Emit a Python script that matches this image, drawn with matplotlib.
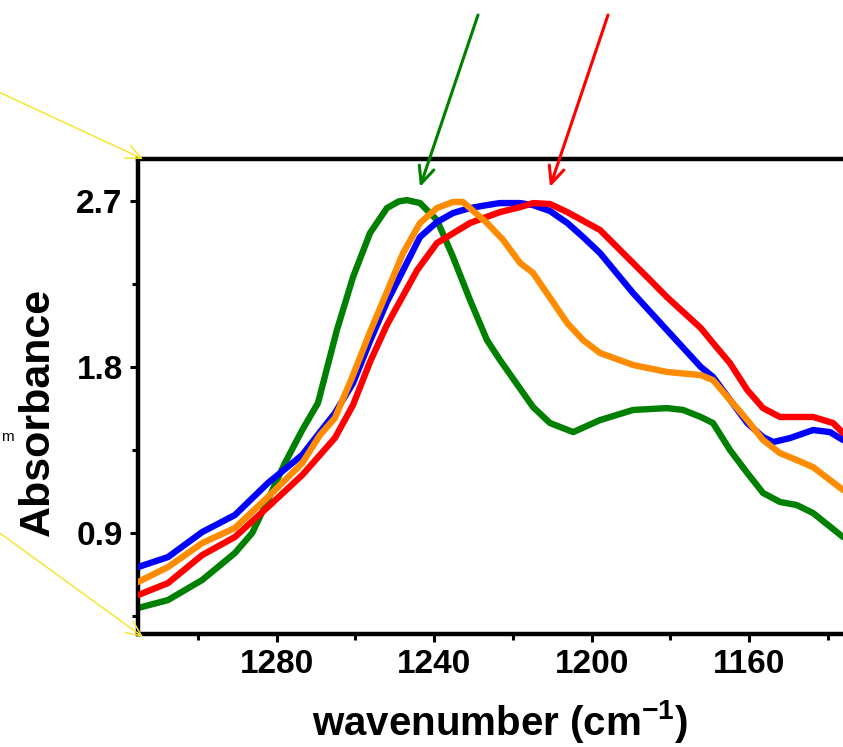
import matplotlib
matplotlib.use("Agg")
import matplotlib.pyplot as plt

plt.rcParams['font.family'] = ['Liberation Sans', 'DejaVu Sans']
plt.rcParams['mathtext.fontset'] = 'custom'
plt.rcParams['mathtext.rm'] = 'Liberation Sans:bold'
plt.rcParams['mathtext.bf'] = 'Liberation Sans:bold'
plt.rcParams['mathtext.default'] = 'bf'

# ---------------- data ----------------
blue_x = [1315.2, 1307.6, 1298.9, 1290.6, 1282.2, 1273.5, 1269.0, 1265.2, 1260.6, 1256.3,
          1252.0, 1243.6, 1239.3, 1235.2, 1230.9, 1226.6, 1223.3, 1218.2, 1214.9, 1210.6,
          1206.2, 1202.2, 1197.9, 1189.5, 1180.9, 1172.3, 1169.2, 1160.5, 1156.5, 1153.9,
          1149.6, 1143.8, 1139.5, 1136.2]
blue_y = [0.715, 0.769, 0.905, 0.997, 1.171, 1.323, 1.447, 1.550, 1.713, 1.940,
          2.152, 2.505, 2.586, 2.635, 2.662, 2.678, 2.689, 2.689, 2.678, 2.646,
          2.581, 2.505, 2.418, 2.201, 2.000, 1.800, 1.746, 1.496, 1.420, 1.393,
          1.415, 1.458, 1.447, 1.404]

red_x = [1315.2, 1307.6, 1298.9, 1290.6, 1282.2, 1273.5, 1269.0, 1265.2, 1260.6, 1256.3,
         1252.0, 1244.3, 1239.3, 1230.9, 1223.3, 1218.2, 1214.9, 1210.6, 1206.2, 1197.9,
         1189.5, 1185.2, 1180.9, 1172.3, 1169.2, 1164.9, 1160.5, 1156.5, 1152.2, 1143.8,
         1138.7, 1136.2]
red_y = [0.563, 0.628, 0.780, 0.878, 1.041, 1.214, 1.323, 1.415, 1.594, 1.827,
         2.028, 2.326, 2.472, 2.581, 2.640, 2.667, 2.689, 2.684, 2.640, 2.543,
         2.364, 2.272, 2.179, 2.011, 1.930, 1.821, 1.675, 1.577, 1.529, 1.529,
         1.496, 1.442]

orange_x = [1315.2, 1307.6, 1298.9, 1290.6, 1282.2, 1273.5, 1269.0, 1265.2, 1260.6, 1256.3,
            1252.0, 1247.9, 1243.6, 1239.3, 1235.2, 1232.7, 1226.6, 1222.5, 1218.2, 1214.9,
            1206.2, 1202.2, 1197.9, 1189.5, 1180.9, 1172.3, 1169.2, 1160.5, 1156.5, 1152.2,
            1147.9, 1143.8, 1136.2]
orange_y = [0.634, 0.715, 0.845, 0.927, 1.095, 1.279, 1.431, 1.523, 1.756, 1.990,
            2.207, 2.418, 2.581, 2.662, 2.695, 2.695, 2.581, 2.489, 2.364, 2.310,
            2.038, 1.946, 1.876, 1.811, 1.773, 1.756, 1.729, 1.512, 1.404, 1.333,
            1.295, 1.257, 1.133]

green_x = [1315.2, 1307.6, 1298.9, 1290.6, 1286.2, 1282.2, 1277.9, 1273.5, 1269.5, 1264.7,
           1260.6, 1256.3, 1252.0, 1249.0, 1246.9, 1243.6, 1239.3, 1235.2, 1230.9, 1226.6,
           1223.3, 1214.9, 1210.6, 1204.7, 1197.9, 1189.5, 1180.9, 1176.8, 1172.3, 1169.2,
           1164.9, 1160.5, 1156.5, 1152.2, 1147.9, 1143.8, 1136.2]
green_y = [0.493, 0.536, 0.645, 0.791, 0.900, 1.079, 1.279, 1.458, 1.605, 2.000,
           2.288, 2.526, 2.662, 2.698, 2.705, 2.689, 2.597, 2.396, 2.163, 1.946,
           1.838, 1.583, 1.496, 1.447, 1.512, 1.567, 1.577, 1.567, 1.529, 1.496,
           1.350, 1.225, 1.117, 1.068, 1.051, 1.008, 0.878]

x_ticks = [1280, 1240, 1200, 1160]
y_ticks = [0.9, 1.8, 2.7]
x_label = 'wavenumber (cm$^{-1}$)'
y_label = 'Absorbance'

# ---------------- figure ----------------
W, H = 843, 747
fig = plt.figure(figsize=(W / 100, H / 100), dpi=100)
ax = fig.add_axes([138 / W, (H - 634) / H, (W - 138) / W, (634 - 159) / H])

style = dict(lw=4.6, solid_capstyle='round', solid_joinstyle='round')
ax.plot(blue_x, blue_y, color='#0000ff', zorder=3, **style)
ax.plot(red_x, red_y, color='#ff0000', zorder=4, **style)
ax.plot(green_x, green_y, color='#008000', zorder=2, **style)
ax.plot(orange_x, orange_y, color='#ff8c00', zorder=5, **style)

ax.set_xlim(1315.2, 1136.2)
ax.set_ylim(0.352, 2.928)
ax.set_xticks(x_ticks)
ax.set_xticks([1300, 1260, 1220, 1180, 1140], minor=True)
ax.set_yticks(y_ticks)
ax.set_yticks([0.45, 1.35, 2.25], minor=True)
ax.set_yticklabels([f'{v:.1f}' for v in y_ticks])

for s in ['left', 'bottom', 'top']:
    ax.spines[s].set_linewidth(3.2)
ax.spines['right'].set_visible(False)
ax.tick_params(which='major', direction='out', length=6, width=2.2, pad=5,
               labelsize=24, top=False, right=False)
ax.tick_params(which='minor', direction='out', length=4, width=2.2, top=False, right=False)
for lab in ax.get_xticklabels() + ax.get_yticklabels():
    lab.set_fontweight('bold')

ax.set_xlabel(x_label, fontsize=29, fontweight='bold')
ax.set_ylabel(y_label, fontsize=31, fontweight='bold')
ax.xaxis.set_label_coords(0.513, -0.135)
ax.yaxis.set_label_coords(-0.113, 0.467)

# ---------------- annotations (figure pixels) ----------------
def arrow(x0, y0, x1, y1, color, lw, ms):
    fig.add_artist(matplotlib.patches.FancyArrowPatch(
        (x0, H - y0), (x1, H - y1), transform=None,
        arrowstyle='->,head_length=1.1,head_width=0.5', mutation_scale=ms,
        color=color, lw=lw, shrinkA=0, shrinkB=0))

arrow(478, 15, 420, 187, '#008000', 2.2, 11)
arrow(608, 15, 550, 187, '#ff0000', 2.2, 11)
arrow(-10, 88, 143, 159, '#f7e531', 1.1, 10)
arrow(-10, 526, 143, 637, '#f7e531', 1.1, 10)

fig.text(1 / W, (H - 437) / H, 'm', ha='left', va='center', fontsize=11,
         family=['Liberation Sans', 'DejaVu Sans'])

fig.savefig('out.png', dpi=100)
